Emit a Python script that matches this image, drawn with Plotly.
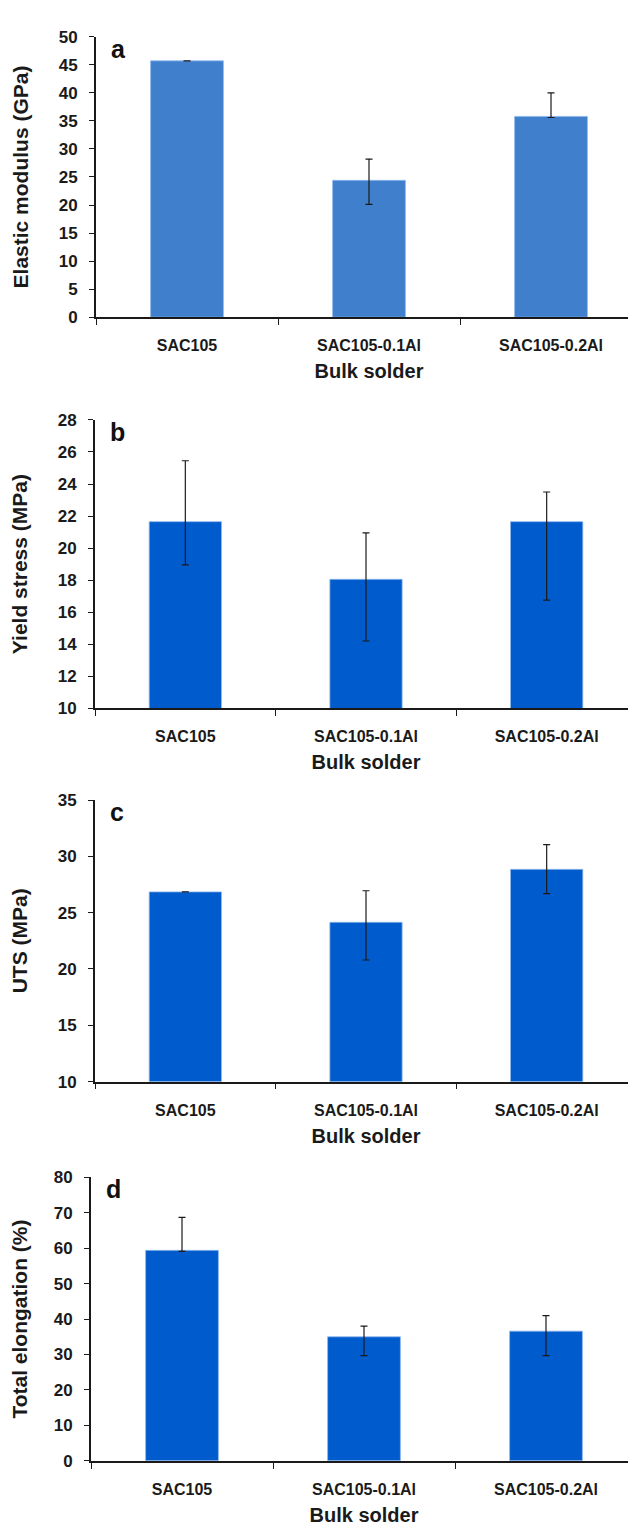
import plotly.graph_objects as go

categories = ["SAC105", "SAC105-0.1Al", "SAC105-0.2Al"]

# Panel a: elastic modulus (GPa)
modulus = [45.7, 24.4, 35.8]
modulus_err_up = [0.0, 3.8, 4.2]
modulus_err_down = [0.0, 4.3, 0.2]

# Panel b: yield stress (MPa)
yield_stress = [21.65, 18.05, 21.65]
yield_err_up = [3.8, 2.9, 1.85]
yield_err_down = [2.7, 3.85, 4.9]

# Panel c: UTS (MPa)
uts = [26.85, 24.15, 28.85]
uts_err_up = [0.0, 2.8, 2.2]
uts_err_down = [0.0, 3.35, 2.15]

# Panel d: total elongation (%)
elong = [59.4, 35.0, 36.6]
elong_err_up = [9.3, 3.0, 4.4]
elong_err_down = [0.3, 5.3, 6.9]

panels = [
    dict(letter="a", y=modulus, up=modulus_err_up, dn=modulus_err_down,
         title="Elastic modulus (GPa)", rng=[0, 50], dtick=5, color="#3F7FCC",
         xdom=[88, 634], ydom=[20, 304]),
    dict(letter="b", y=yield_stress, up=yield_err_up, dn=yield_err_down,
         title="Yield stress (MPa)", rng=[10, 28], dtick=2, color="#005BCD",
         xdom=[87, 629], ydom=[408, 700]),
    dict(letter="c", y=uts, up=uts_err_up, dn=uts_err_down,
         title="UTS (MPa)", rng=[10, 35], dtick=5, color="#005BCD",
         xdom=[87, 629], ydom=[793, 1078]),
    dict(letter="d", y=elong, up=elong_err_up, dn=elong_err_down,
         title="Total elongation (%)", rng=[0, 80], dtick=10, color="#005BCD",
         xdom=[83, 629], ydom=[1175, 1462]),
]

W, H = 636, 1526
FONT = "Liberation Sans, Arial, sans-serif"
INK = "#1a1a1a"

fig = go.Figure()
layout = dict(width=W, height=H, margin=dict(l=0, r=0, t=0, b=0),
              paper_bgcolor="white", plot_bgcolor="white", showlegend=False,
              annotations=[])

for i, p in enumerate(panels, start=1):
    xa = "x" if i == 1 else f"x{i}"
    ya = "y" if i == 1 else f"y{i}"
    fig.add_trace(go.Bar(
        x=categories, y=p["y"], xaxis=xa, yaxis=ya, width=0.4,
        marker=dict(color=p["color"], line=dict(color="#8DB8EC", width=0.8)),
        error_y=dict(type="data", symmetric=False, array=p["up"], arrayminus=p["dn"],
                     color=INK, thickness=1.2, width=3.5),
    ))
    xd = [p["xdom"][0] / W, p["xdom"][1] / W]
    yd = [1 - p["ydom"][1] / H, 1 - p["ydom"][0] / H]
    layout["xaxis" if i == 1 else f"xaxis{i}"] = dict(
        domain=xd, anchor=ya, showline=True, linecolor=INK, linewidth=1.8,
        ticks="outside", tickson="boundaries", ticklen=6, tickcolor=INK,
        tickwidth=1.4, showgrid=False, zeroline=False, ticklabelstandoff=13,
        tickfont=dict(family=FONT, size=16, color=INK, weight="bold"),
        title=dict(text="<b>Bulk solder</b>", standoff=11,
                   font=dict(family=FONT, size=20, color=INK)),
    )
    layout["yaxis" if i == 1 else f"yaxis{i}"] = dict(
        domain=yd, anchor=xa, range=p["rng"], dtick=p["dtick"], showline=True,
        linecolor=INK, linewidth=1.8, ticks="outside", ticklen=5,
        tickcolor=INK, tickwidth=1.4, showgrid=False, zeroline=False,
        ticklabelstandoff=8,
        tickfont=dict(family=FONT, size=17, color=INK, weight="bold"),
        title=dict(text=f"<b>{p['title']}</b>", standoff=24,
                   font=dict(family=FONT, size=21, color=INK)),
    )
    layout["annotations"].append(dict(
        text=f"<b>{p['letter']}</b>", xref="paper", yref="paper",
        x=(p["xdom"][0] + 13) / W, y=1 - (p["ydom"][0] - 4) / H,
        xanchor="left", yanchor="top", showarrow=False,
        font=dict(family=FONT, size=25, color="#111"),
    ))

fig.update_layout(**layout)
fig.write_html("out.html")
